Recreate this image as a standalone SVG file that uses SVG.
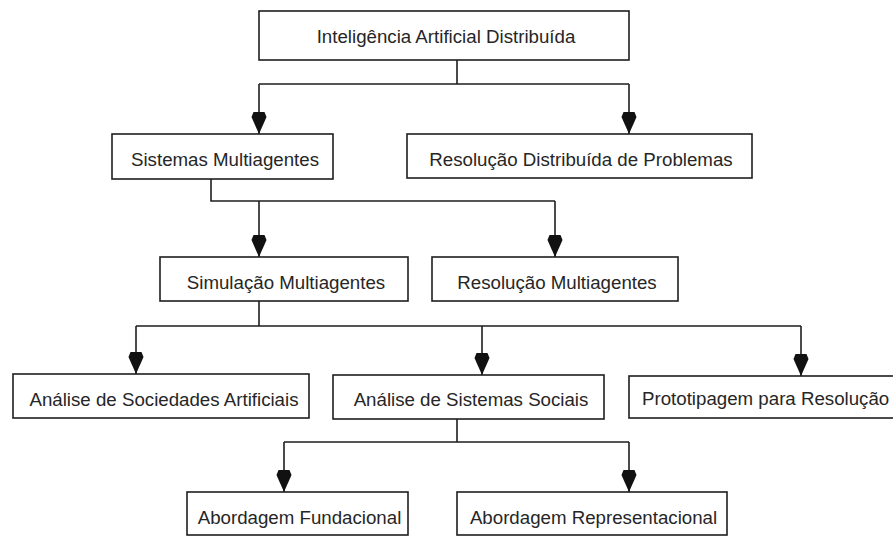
<svg xmlns="http://www.w3.org/2000/svg" width="893" height="536" viewBox="0 0 893 536">
  <style>
    .box { fill: #ffffff; stroke: #1e1e1e; stroke-width: 1.6; }
    .lbl { font-family: "Liberation Sans", Arial, sans-serif; font-size: 18.7px; fill: #262626; text-anchor: middle; }
    .lbl-start { text-anchor: start; }
    .wire { fill: none; stroke: #1e1e1e; stroke-width: 1.6; }
  </style>
  <defs>
    <marker id="head" markerUnits="userSpaceOnUse" markerWidth="24" markerHeight="18" viewBox="0 -9 24 18" refX="22" refY="0" orient="auto" overflow="visible">
      <path d="M0,-5.5 L5,-7.5 L22,0 L5,7.5 L0,5.5 Z" fill="#111111"/>
    </marker>
  </defs>
  <rect width="893" height="536" fill="#ffffff"/>

  <!-- connectors -->
  <g id="connectors" class="wire">
    <path d="M457,60 V84 M259,84 H629"/>
    <path d="M259,84 V134" marker-end="url(#head)"/>
    <path d="M629,84 V134" marker-end="url(#head)"/>

    <path d="M211,179 V201 H555"/>
    <path d="M259,201 V257" marker-end="url(#head)"/>
    <path d="M555,201 V257" marker-end="url(#head)"/>

    <path d="M259,301 V326 M136,326 H801"/>
    <path d="M136,326 V374" marker-end="url(#head)"/>
    <path d="M482,326 V375" marker-end="url(#head)"/>
    <path d="M801,326 V376" marker-end="url(#head)"/>

    <path d="M457,419 V442 M284,442 H629"/>
    <path d="M284,442 V492" marker-end="url(#head)"/>
    <path d="M629,442 V492" marker-end="url(#head)"/>
  </g>

  <!-- nodes -->
  <g id="iad">
    <rect class="box" x="259" y="11" width="370" height="49"/>
    <text class="lbl" x="446" y="43">Inteligência Artificial Distribuída</text>
  </g>
  <g id="sma">
    <rect class="box" x="112" y="134" width="221" height="45"/>
    <text class="lbl" x="225" y="166">Sistemas Multiagentes</text>
  </g>
  <g id="rdp">
    <rect class="box" x="407" y="134" width="345" height="44"/>
    <text class="lbl" x="581" y="166">Resolução Distribuída de Problemas</text>
  </g>
  <g id="simulacao">
    <rect class="box" x="160" y="257" width="248" height="44"/>
    <text class="lbl" x="286" y="289">Simulação Multiagentes</text>
  </g>
  <g id="resolucao">
    <rect class="box" x="432" y="257" width="246" height="44"/>
    <text class="lbl" x="557" y="289">Resolução Multiagentes</text>
  </g>
  <g id="sociedades">
    <rect class="box" x="13" y="374" width="296" height="44"/>
    <text class="lbl" x="164" y="406">Análise de Sociedades Artificiais</text>
  </g>
  <g id="sociais">
    <rect class="box" x="333" y="375" width="271" height="44"/>
    <text class="lbl" x="471" y="406">Análise de Sistemas Sociais</text>
  </g>
  <g id="prototipagem">
    <rect class="box" x="629" y="376" width="275" height="42"/>
    <text class="lbl lbl-start" x="642" y="405">Prototipagem para Resolução</text>
  </g>
  <g id="fundacional">
    <rect class="box" x="187" y="492" width="221" height="43"/>
    <text class="lbl" x="299.5" y="524">Abordagem Fundacional</text>
  </g>
  <g id="representacional">
    <rect class="box" x="457" y="492" width="270" height="43"/>
    <text class="lbl" x="593.5" y="524">Abordagem Representacional</text>
  </g>
</svg>
